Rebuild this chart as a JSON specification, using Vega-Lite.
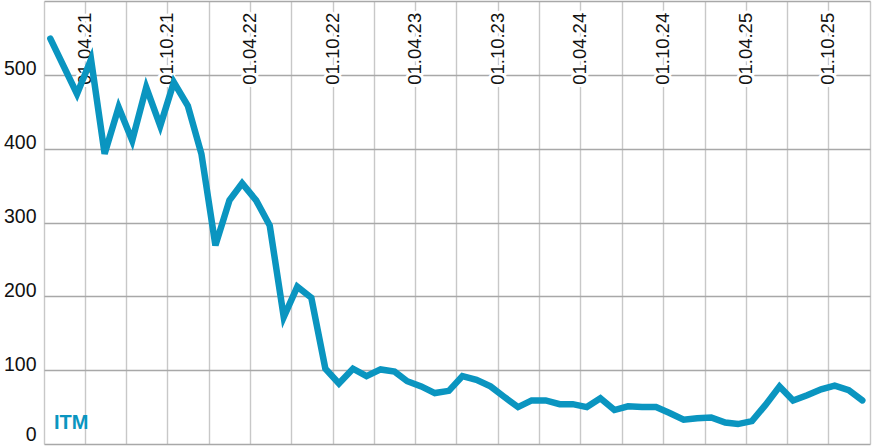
{
  "$schema": "https://vega.github.io/schema/vega-lite/v6.json",
  "width": 826,
  "height": 443,
  "autosize": {"type": "none"},
  "padding": {"left": 44, "top": 1, "right": 2, "bottom": 2},
  "background": "white",
  "config": {"view": {"stroke": null}},
  "datasets": {
    "main": [
      {"date": "2021-01-15", "value": 549},
      {"date": "2021-03-15", "value": 474},
      {"date": "2021-04-15", "value": 521},
      {"date": "2021-05-15", "value": 393},
      {"date": "2021-06-15", "value": 456},
      {"date": "2021-07-15", "value": 411},
      {"date": "2021-08-15", "value": 483},
      {"date": "2021-09-15", "value": 431},
      {"date": "2021-10-15", "value": 490},
      {"date": "2021-11-15", "value": 458},
      {"date": "2021-12-15", "value": 393},
      {"date": "2022-01-15", "value": 269},
      {"date": "2022-02-15", "value": 330},
      {"date": "2022-03-15", "value": 353},
      {"date": "2022-04-15", "value": 330},
      {"date": "2022-05-15", "value": 296},
      {"date": "2022-06-15", "value": 172},
      {"date": "2022-07-15", "value": 213},
      {"date": "2022-08-15", "value": 198},
      {"date": "2022-09-15", "value": 102},
      {"date": "2022-10-15", "value": 82},
      {"date": "2022-11-15", "value": 102},
      {"date": "2022-12-15", "value": 92},
      {"date": "2023-01-15", "value": 101},
      {"date": "2023-02-15", "value": 98},
      {"date": "2023-03-15", "value": 85},
      {"date": "2023-04-15", "value": 78},
      {"date": "2023-05-15", "value": 69},
      {"date": "2023-06-15", "value": 72},
      {"date": "2023-07-15", "value": 92},
      {"date": "2023-08-15", "value": 87},
      {"date": "2023-09-15", "value": 78},
      {"date": "2023-10-15", "value": 64},
      {"date": "2023-11-15", "value": 50},
      {"date": "2023-12-15", "value": 59},
      {"date": "2024-01-15", "value": 59},
      {"date": "2024-02-15", "value": 54},
      {"date": "2024-03-15", "value": 54},
      {"date": "2024-04-15", "value": 50},
      {"date": "2024-05-15", "value": 62},
      {"date": "2024-06-15", "value": 46},
      {"date": "2024-07-15", "value": 51},
      {"date": "2024-08-15", "value": 50},
      {"date": "2024-09-15", "value": 50},
      {"date": "2024-10-15", "value": 42},
      {"date": "2024-11-15", "value": 33},
      {"date": "2024-12-15", "value": 35},
      {"date": "2025-01-15", "value": 36},
      {"date": "2025-02-15", "value": 29},
      {"date": "2025-03-15", "value": 27},
      {"date": "2025-04-15", "value": 31},
      {"date": "2025-05-15", "value": 53},
      {"date": "2025-06-15", "value": 78},
      {"date": "2025-07-15", "value": 59},
      {"date": "2025-08-15", "value": 66},
      {"date": "2025-09-15", "value": 74},
      {"date": "2025-10-15", "value": 79},
      {"date": "2025-11-15", "value": 73},
      {"date": "2025-12-15", "value": 59}
    ],
    "labels": [
      {"date": "2021-04-01", "label": "01.04.21"},
      {"date": "2021-10-01", "label": "01.10.21"},
      {"date": "2022-04-01", "label": "01.04.22"},
      {"date": "2022-10-01", "label": "01.10.22"},
      {"date": "2023-04-01", "label": "01.04.23"},
      {"date": "2023-10-01", "label": "01.10.23"},
      {"date": "2024-04-01", "label": "01.04.24"},
      {"date": "2024-10-01", "label": "01.10.24"},
      {"date": "2025-04-01", "label": "01.04.25"},
      {"date": "2025-10-01", "label": "01.10.25"}
    ],
    "tag": [{"name": "ITM"}]
  },
  "layer": [
    {
      "data": {"name": "labels"},
      "mark": {"type": "text", "angle": 270, "align": "right", "baseline": "middle", "font": "Liberation Sans, Arial", "fontSize": 18.5, "fill": "white", "stroke": "white", "strokeWidth": 6, "strokeJoin": "round"},
      "encoding": {
        "x": {"field": "date", "type": "temporal", "title": null},
        "y": {"datum": 584, "type": "quantitative", "title": null},
        "text": {"field": "label"}
      }
    },
    {
      "data": {"name": "labels"},
      "mark": {"type": "text", "angle": 270, "align": "right", "baseline": "middle", "font": "Liberation Sans, Arial", "fontSize": 18.5, "fill": "#111111"},
      "encoding": {
        "x": {"field": "date", "type": "temporal", "title": null},
        "y": {"datum": 584, "type": "quantitative", "title": null},
        "text": {"field": "label"}
      }
    },
    {
      "data": {"name": "main"},
      "mark": {"type": "line", "color": "#0a95c0", "strokeWidth": 6.5, "strokeCap": "round", "strokeJoin": "miter"},
      "encoding": {
        "x": {
          "field": "date", "type": "temporal",
          "scale": {"type": "utc", "domain": [{"year": 2021, "month": 1, "date": 1, "utc": true}, {"year": 2026, "month": 1, "date": 1, "utc": true}]},
          "axis": {
            "title": null, "labels": false, "ticks": false, "domain": false, "grid": true,
            "gridColor": "#c8c8c8", "gridWidth": 1.4,
            "values": [
              {"year": 2021, "month": 1, "date": 1, "utc": true},
              {"year": 2021, "month": 4, "date": 1, "utc": true},
              {"year": 2021, "month": 7, "date": 1, "utc": true},
              {"year": 2021, "month": 10, "date": 1, "utc": true},
              {"year": 2022, "month": 1, "date": 1, "utc": true},
              {"year": 2022, "month": 4, "date": 1, "utc": true},
              {"year": 2022, "month": 7, "date": 1, "utc": true},
              {"year": 2022, "month": 10, "date": 1, "utc": true},
              {"year": 2023, "month": 1, "date": 1, "utc": true},
              {"year": 2023, "month": 4, "date": 1, "utc": true},
              {"year": 2023, "month": 7, "date": 1, "utc": true},
              {"year": 2023, "month": 10, "date": 1, "utc": true},
              {"year": 2024, "month": 1, "date": 1, "utc": true},
              {"year": 2024, "month": 4, "date": 1, "utc": true},
              {"year": 2024, "month": 7, "date": 1, "utc": true},
              {"year": 2024, "month": 10, "date": 1, "utc": true},
              {"year": 2025, "month": 1, "date": 1, "utc": true},
              {"year": 2025, "month": 4, "date": 1, "utc": true},
              {"year": 2025, "month": 7, "date": 1, "utc": true},
              {"year": 2025, "month": 10, "date": 1, "utc": true},
              {"year": 2026, "month": 1, "date": 1, "utc": true}
            ]
          }
        },
        "y": {
          "field": "value", "type": "quantitative",
          "scale": {"domain": [0, 600], "nice": false, "zero": true},
          "axis": {
            "title": null, "values": [0, 100, 200, 300, 400, 500, 600],
            "domain": false, "ticks": false, "tickSize": 0, "grid": true,
            "gridColor": "#a8a8a8", "gridWidth": 1.4,
            "labelPadding": 8, "labelFont": "Liberation Sans, Arial", "labelFontSize": 19.5, "labelColor": "#111111",
            "labelBaseline": {"condition": {"test": "datum.value === 0", "value": "bottom"}, "value": "alphabetic"},
            "labelExpr": "datum.value === 600 ? '' : datum.label"
          }
        }
      }
    },
    {
      "data": {"name": "tag"},
      "mark": {"type": "text", "align": "left", "baseline": "alphabetic", "font": "Liberation Sans, Arial", "fontWeight": "bold", "fontSize": 20, "fill": "#0a95c0"},
      "encoding": {
        "x": {"datum": {"year": 2021, "month": 1, "date": 23, "utc": true}, "type": "temporal", "title": null},
        "y": {"datum": 20, "type": "quantitative", "title": null},
        "text": {"field": "name"}
      }
    }
  ]
}
